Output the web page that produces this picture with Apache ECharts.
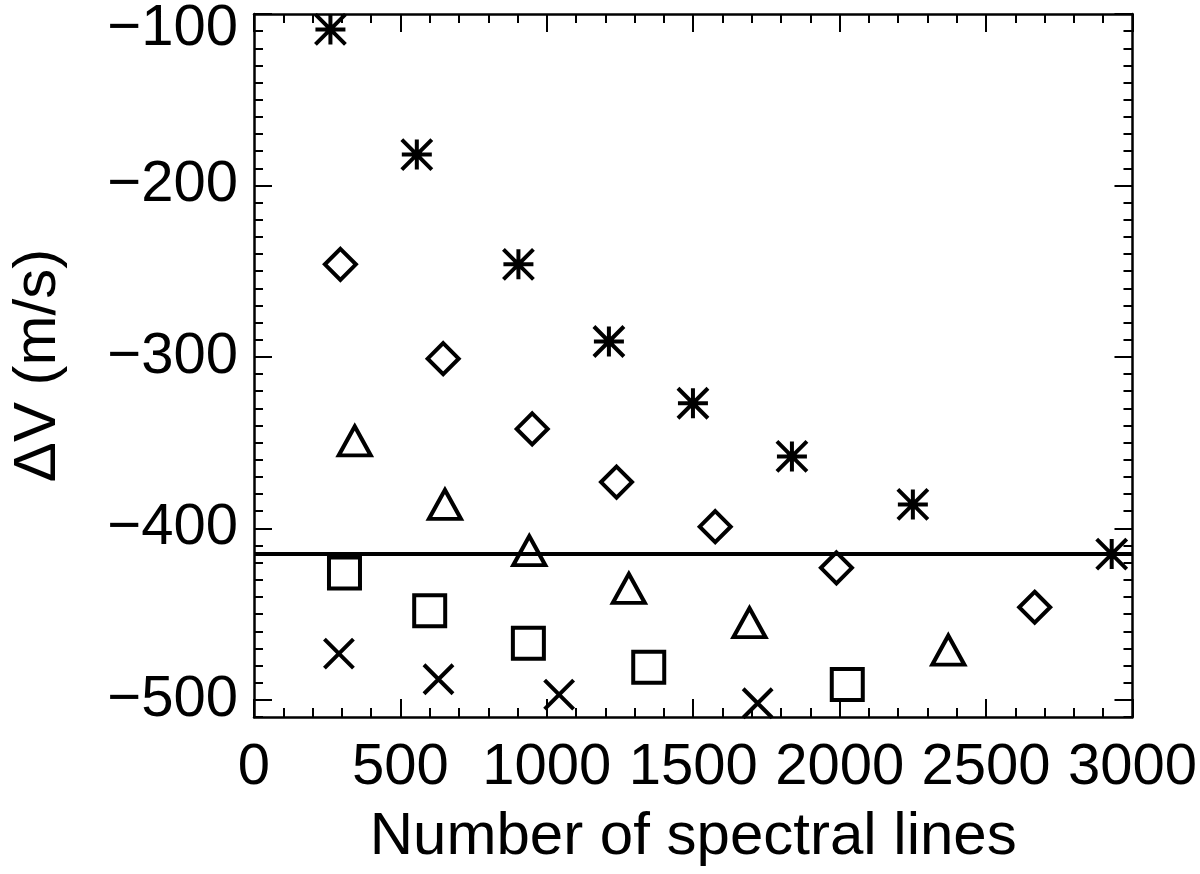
<!DOCTYPE html>
<html>
<head>
<meta charset="utf-8">
<script src="https://cdn.jsdelivr.net/npm/echarts@6/dist/echarts.min.js"></script>
<style>
  html, body { margin: 0; padding: 0; background: #fff; }
  #chart { width: 1200px; height: 874px; }
</style>
</head>
<body>
<div id="chart"></div>
<script>
// values
var starX = [261, 556, 903, 1212, 1499, 1837, 2250, 2929];
var starY = [-109, -182, -246, -291, -327, -358, -386, -415];
var diamondX = [295, 646, 950, 1238, 1575, 1989, 2666];
var diamondY = [-246, -301, -342, -373, -399, -423, -446];
var triangleX = [344, 652, 940, 1280, 1692, 2371];
var triangleY = [-349, -386, -413, -435, -455, -471];
var squareX = [309, 600, 937, 1348, 2026];
var squareY = [-426, -448, -467, -481, -491];
var crossX = [290, 630, 1042, 1720];
var crossY = [-473, -488, -497, -502];
var refLevel = -415;

var xMajor = [0, 500, 1000, 1500, 2000, 2500, 3000];
var yMajor = [-500, -400, -300, -200, -100];

var xMinor = [];
for (var i = 0; i <= 3000; i += 100) xMinor.push(i);
var yMinor = [];
for (var j = -510; j <= -100; j += 10) yMinor.push(j);

function zip(xs, ys) {
    return xs.map(function (x, k) { return [x, ys[k]]; });
}

var FONT = '"Liberation Sans", Arial, Helvetica, sans-serif';
var INK = '#000';

function tickAxis(type, pos, values, len, showLine, withLabels) {
    var ax = {
        type: 'value',
        position: pos,
        min: type === 'x' ? 0 : -510,
        max: type === 'x' ? 3000 : -100,
        splitLine: { show: false },
        axisLine: { show: showLine, onZero: false, lineStyle: { color: INK, width: 2.5 } },
        axisTick: { show: true, inside: true, length: len, customValues: values,
                    lineStyle: { color: INK, width: 2 } },
        axisLabel: { show: false }
    };
    if (withLabels) {
        ax.axisLabel = {
            show: true,
            customValues: values,
            color: INK,
            fontFamily: FONT,
            fontSize: 58,
            lineHeight: 30,
            margin: type === 'x' ? 36 : 16,
            formatter: function (v) { return String(v).replace('-', '\u2212'); }
        };
    }
    return ax;
}

var xBottom = tickAxis('x', 'bottom', xMajor, 18, true, true);
xBottom.name = 'Number of spectral lines';
xBottom.nameLocation = 'middle';
xBottom.nameGap = 90;
xBottom.nameTextStyle = { color: INK, fontFamily: FONT, fontSize: 60 };

var yLeft = tickAxis('y', 'left', yMajor, 18, true, true);
yLeft.name = '\u0394V (m/s)';
yLeft.nameLocation = 'middle';
yLeft.nameGap = 186;
yLeft.nameTextStyle = { color: INK, fontFamily: FONT, fontSize: 60 };
yLeft.axisLabel.verticalAlignMaxLabel = 'top';

function scatter(name, xs, ys, symbol, size) {
    return {
        type: 'scatter',
        name: name,
        data: zip(xs, ys),
        symbol: symbol,
        symbolSize: size,
        xAxisIndex: 0,
        yAxisIndex: 0,
        z: 3,
        itemStyle: { color: 'rgba(0,0,0,0)', borderColor: INK, borderWidth: 4, opacity: 1 },
        emphasis: { disabled: true }
    };
}

var option = {
    animation: false,
    backgroundColor: '#fff',
    grid: { left: 253, right: 66, top: 13, bottom: 157, containLabel: false },
    xAxis: [
        xBottom,
        tickAxis('x', 'top', xMajor, 18, true, false),
        tickAxis('x', 'bottom', xMinor, 9, false, false),
        tickAxis('x', 'top', xMinor, 9, false, false)
    ],
    yAxis: [
        yLeft,
        tickAxis('y', 'right', yMajor, 18, true, false),
        tickAxis('y', 'left', yMinor, 9, false, false),
        tickAxis('y', 'right', yMinor, 9, false, false)
    ],
    series: [
        {
            type: 'line',
            data: [[0, refLevel], [3000, refLevel]],
            symbol: 'none',
            lineStyle: { color: INK, width: 4 },
            z: 2,
            silent: true
        },
        scatter('stars', starX, starY,
            'path://M-1,0L1,0M0,-1L0,1M-1,-1L1,1M-1,1L1,-1', 30),
        scatter('diamonds', diamondX, diamondY, 'diamond', [31, 31]),
        scatter('triangles', triangleX, triangleY, 'triangle', [32, 29]),
        scatter('squares', squareX, squareY, 'rect', [31, 31]),
        scatter('crosses', crossX, crossY, 'path://M-1,-1L1,1M-1,1L1,-1', 29)
    ]
};

var chart = echarts.init(document.getElementById('chart'), null, { renderer: 'canvas' });
chart.setOption(option);
</script>
</body>
</html>
